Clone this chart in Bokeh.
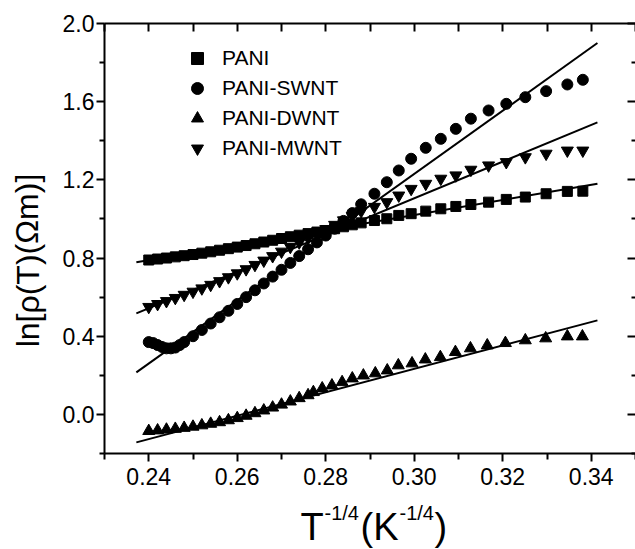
from bokeh.plotting import figure
from bokeh.models import (FixedTicker, LinearAxis, Label, Legend, LegendItem, Range1d)
from bokeh.embed import file_html
from bokeh.resources import INLINE

FONT = "Liberation Sans"

# ---------------- data ----------------
pani_x = [0.240, 0.242, 0.244, 0.246, 0.248, 0.250, 0.252, 0.254, 0.256, 0.258,
          0.260, 0.262, 0.264, 0.266, 0.268, 0.270, 0.272, 0.274, 0.276, 0.278,
          0.280, 0.282, 0.284, 0.286, 0.288,
          0.2910, 0.2938, 0.2965, 0.2993, 0.3026, 0.3060, 0.3094, 0.3128, 0.3168,
          0.3208, 0.3251, 0.3298, 0.3346, 0.3381]
pani_y = [0.790, 0.795, 0.800, 0.806, 0.812, 0.818, 0.825, 0.832, 0.840, 0.848,
          0.856, 0.864, 0.873, 0.882, 0.891, 0.900, 0.909, 0.917, 0.925, 0.933,
          0.941, 0.950, 0.960, 0.970, 0.980,
          0.992, 1.001, 1.018, 1.027, 1.040, 1.052, 1.064, 1.074, 1.086,
          1.100, 1.112, 1.129, 1.141, 1.142]

swnt_x = [0.240, 0.241, 0.242, 0.243, 0.244, 0.245, 0.246, 0.247, 0.248, 0.250,
          0.252, 0.254, 0.256, 0.258, 0.260, 0.262, 0.264, 0.266, 0.268, 0.270,
          0.272, 0.274, 0.276, 0.278, 0.280, 0.282, 0.284, 0.286, 0.288,
          0.2910, 0.2938, 0.2965, 0.2993, 0.3026, 0.3060, 0.3094, 0.3128, 0.3168,
          0.3208, 0.3251, 0.3298, 0.3346, 0.3381]
swnt_y = [0.370, 0.365, 0.355, 0.345, 0.338, 0.338, 0.342, 0.355, 0.370, 0.400,
          0.432, 0.465, 0.497, 0.530, 0.565, 0.600, 0.635, 0.670, 0.705, 0.740,
          0.775, 0.810, 0.845, 0.880, 0.915, 0.950, 0.990, 1.030, 1.075,
          1.129, 1.188, 1.248, 1.308, 1.364, 1.410, 1.461, 1.513, 1.555,
          1.589, 1.623, 1.654, 1.688, 1.712]

dwnt_x = [0.240, 0.242, 0.244, 0.246, 0.248, 0.250, 0.252, 0.254, 0.256, 0.258,
          0.260, 0.262, 0.264, 0.266, 0.268, 0.270, 0.272, 0.274, 0.276,
          0.2772, 0.2792, 0.2814, 0.2837, 0.2860, 0.2885, 0.2912, 0.2939, 0.2964,
          0.2995, 0.3025, 0.3059, 0.3093, 0.3127, 0.3165, 0.3206, 0.3251, 0.3297,
          0.3346, 0.3380]
dwnt_y = [-0.085, -0.082, -0.078, -0.074, -0.069, -0.063, -0.056, -0.048, -0.040, -0.030,
          -0.019, -0.007, 0.006, 0.020, 0.035, 0.050, 0.066, 0.083, 0.098,
          0.114, 0.133, 0.148, 0.165, 0.184, 0.199, 0.210, 0.225, 0.251,
          0.261, 0.281, 0.293, 0.319, 0.338, 0.353, 0.365, 0.379, 0.389,
          0.399, 0.399]

mwnt_x = [0.240, 0.242, 0.244, 0.246, 0.248, 0.250, 0.252, 0.254, 0.256, 0.258,
          0.260, 0.262, 0.264, 0.266, 0.268, 0.270, 0.272, 0.274, 0.276, 0.278,
          0.280, 0.282, 0.284, 0.286, 0.288,
          0.2910, 0.2938, 0.2965, 0.2993, 0.3026, 0.3060, 0.3094, 0.3128, 0.3168,
          0.3208, 0.3251, 0.3298, 0.3346, 0.3381]
mwnt_y = [0.550, 0.565, 0.580, 0.596, 0.612, 0.628, 0.645, 0.663, 0.682, 0.702,
          0.722, 0.743, 0.765, 0.787, 0.810, 0.833, 0.857, 0.880, 0.903, 0.925,
          0.948, 0.970, 0.993, 1.015, 1.040,
          1.062, 1.086, 1.120, 1.154, 1.180, 1.206, 1.223, 1.252, 1.274,
          1.291, 1.316, 1.334, 1.350, 1.350]

# linear fits (end points of the straight lines)
fit_x = [0.2372, 0.3414]
fit_pani = [0.778, 1.180]
fit_swnt = [0.215, 1.900]
fit_mwnt = [0.517, 1.494]
fit_dwnt = [-0.143, 0.481]

series_names = ["PANI", "PANI-SWNT", "PANI-DWNT", "PANI-MWNT"]

x_major = [0.24, 0.26, 0.28, 0.30, 0.32, 0.34]
x_major_labels = ["0.24", "0.26", "0.28", "0.30", "0.32", "0.34"]
x_minor = [0.23, 0.25, 0.27, 0.29, 0.31, 0.33, 0.35]
y_major = [0.0, 0.4, 0.8, 1.2, 1.6, 2.0]
y_major_labels = ["0.0", "0.4", "0.8", "1.2", "1.6", "2.0"]
y_minor = [-0.2, 0.2, 0.6, 1.0, 1.4, 1.8]

x_min, x_max = 0.23, 0.35
y_min, y_max = -0.2, 2.0

# ---------------- geometry: plot box inside the page ----------------
W, H = 635, 549
box_left, box_right, box_top, box_bottom = 104, 635, 23, 453
sx = (x_max - x_min) / (box_right - box_left)
sy = (y_max - y_min) / (box_bottom - box_top)

def dx(px):
    return x_min + (px - box_left) * sx

def dy(py):
    return y_max - (py - box_top) * sy

p = figure(frame_width=W, frame_height=H,
           x_range=Range1d(dx(0), dx(W)), y_range=Range1d(dy(H), dy(0)),
           x_axis_location=None, y_axis_location=None,
           output_backend="svg", toolbar_location=None,
           min_border=0)
p.outline_line_color = None
p.grid.visible = False
p.background_fill_color = "white"
p.border_fill_color = "white"

def base_axis(ax):
    ax.axis_line_color = "black"
    ax.axis_line_width = 2
    ax.major_tick_line_color = "black"
    ax.minor_tick_line_color = "black"
    ax.major_tick_line_width = 2
    ax.minor_tick_line_width = 2
    ax.major_label_text_font = FONT
    ax.major_label_text_color = "black"
    ax.major_tick_in = 0
    ax.major_tick_out = 0
    ax.minor_tick_in = 0
    ax.minor_tick_out = 0

# bottom axis
xa = LinearAxis(fixed_location=y_min, bounds=(x_min, x_max),
                ticker=FixedTicker(ticks=x_major, minor_ticks=x_minor))
base_axis(xa)
xa.major_label_overrides = dict(zip(x_major, x_major_labels))
xa.major_tick_out = 8
xa.minor_tick_out = 6
xa.major_label_text_font_size = "23px"
xa.major_label_standoff = 6
p.add_layout(xa, "below")

# left axis
ya = LinearAxis(fixed_location=x_min, bounds=(y_min, y_max),
                ticker=FixedTicker(ticks=y_major, minor_ticks=y_minor))
base_axis(ya)
ya.major_label_overrides = dict(zip(y_major, y_major_labels))
ya.major_tick_out = 8
ya.minor_tick_out = 5
ya.major_label_text_font_size = "23px"
ya.major_label_standoff = 2
p.add_layout(ya, "left")

# top axis: line + inward ticks only (all ticks as unlabeled minor ticks)
top = LinearAxis(fixed_location=y_max, bounds=(x_min, x_max),
                 ticker=FixedTicker(ticks=[], minor_ticks=sorted(x_major + x_minor)))
base_axis(top)
top.minor_tick_in = 8
p.add_layout(top, "above")

# right side: inward ticks only, long at major and short at minor values
right_major = LinearAxis(fixed_location=x_max, bounds=(y_min, y_max),
                         ticker=FixedTicker(ticks=[], minor_ticks=y_major))
base_axis(right_major)
right_major.axis_line_color = None
right_major.minor_tick_in = 8
p.add_layout(right_major, "right")

right_minor = LinearAxis(fixed_location=x_max, bounds=(y_min, y_max),
                         ticker=FixedTicker(ticks=[], minor_ticks=y_minor))
base_axis(right_minor)
right_minor.axis_line_color = None
right_minor.minor_tick_in = 4
p.add_layout(right_minor, "right")

# ---------------- data marks ----------------
r_pani = p.scatter(pani_x, pani_y, marker="square", size=10, color="black")
r_swnt = p.scatter(swnt_x, swnt_y, marker="circle", size=11, color="black")
r_dwnt = p.scatter(dwnt_x, dwnt_y, marker="triangle", size=12, color="black")
r_mwnt = p.scatter(mwnt_x, mwnt_y, marker="inverted_triangle", size=12, color="black")

for fy in (fit_pani, fit_swnt, fit_mwnt, fit_dwnt):
    p.line(fit_x, fy, line_color="black", line_width=2)

# ---------------- legend ----------------
legend = Legend(items=[LegendItem(label=series_names[0], renderers=[r_pani]),
                       LegendItem(label=series_names[1], renderers=[r_swnt]),
                       LegendItem(label=series_names[2], renderers=[r_dwnt]),
                       LegendItem(label=series_names[3], renderers=[r_mwnt])],
                location=(182, H - 163),
                glyph_width=30, glyph_height=30, label_height=25,
                spacing=-5, padding=0, margin=0, label_standoff=10,
                label_text_font=FONT, label_text_font_size="21px",
                label_text_color="black",
                border_line_color=None, background_fill_alpha=0)
p.add_layout(legend, "center")

# ---------------- axis titles ----------------
p.add_layout(Label(x=dx(27), y=dy(260), text="ln[ρ(T)(Ωm)]", angle=1.5708,
                   text_align="center", text_baseline="alphabetic",
                   text_font=FONT, text_font_size="32px", text_color="black"))

big = "38px"
small = "20px"
title_parts = [("T", 300, 526, big), ("-1/4", 324, 512, small), ("(K", 360, 526, big),
               ("-1/4", 399, 512, small), (")", 434, 526, big)]
for txt, px, py, fs in title_parts:
    p.add_layout(Label(x=dx(px), y=dy(py), text=txt, text_font=FONT, text_font_size=fs,
                       text_align="left", text_baseline="alphabetic", text_color="black"))

open("out.html", "w").write(file_html(p, INLINE))
